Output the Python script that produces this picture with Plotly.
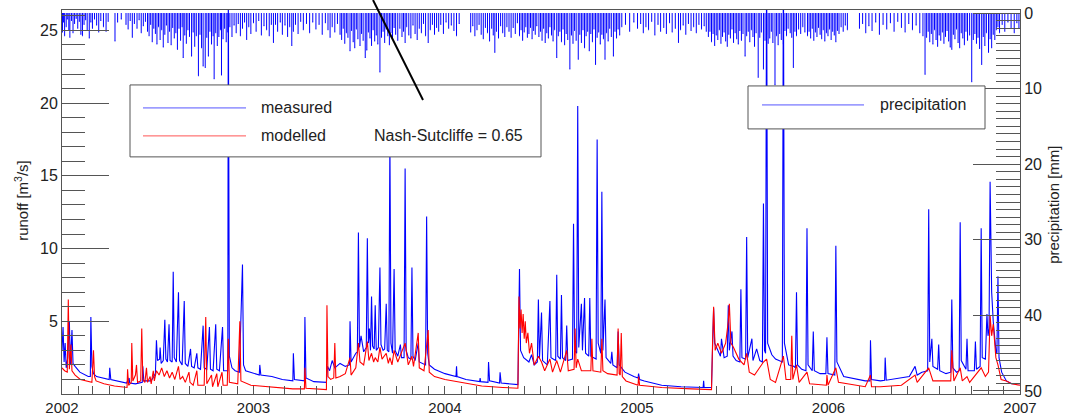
import pandas as pd
import plotly.graph_objects as go

START = pd.Timestamp("2002-01-01")

# ---- measured runoff [m3/s]: day offset since 2002-01-01, value
meas_day = [0,2,4,6,8,11,14,16,19,21,25,34,50,54,55,57,60,66,90,91,93,110,123,128,129,140,153,154,156,170,178,180,182,186,187,189,193,196,198,201,204,206,210,212,214,218,222,224,229,233,235,240,245,247,252,257,259,264,269,271,276,281,283,288,293,295,300,306,308,316,317,319,324,330,338,344,346,350,365,376,377,379,400,420,440,441,443,462,463,465,480,504,506,510,515,520,530,540,548,549,551,556,560,563,565,567,570,575,580,582,584,586,588,590,592,595,597,599,603,606,608,612,615,618,620,623,625,627,630,633,635,640,645,647,652,654,656,660,665,667,669,673,679,681,693,695,697,700,710,730,751,752,753,770,796,797,798,812,813,815,834,835,837,869,872,874,880,890,895,900,906,908,910,914,916,925,930,932,941,943,945,950,952,954,960,962,964,973,975,977,981,983,985,990,992,996,998,1004,1006,1008,1018,1020,1022,1027,1029,1031,1035,1037,1046,1048,1050,1058,1060,1062,1073,1090,1098,1099,1101,1110,1143,1180,1222,1223,1224,1238,1240,1242,1244,1250,1255,1257,1262,1268,1270,1272,1277,1279,1285,1292,1294,1296,1303,1305,1307,1315,1317,1324,1330,1335,1337,1339,1341,1343,1345,1353,1360,1373,1375,1377,1385,1395,1398,1400,1402,1410,1418,1420,1422,1430,1432,1434,1445,1456,1458,1460,1470,1473,1475,1477,1490,1531,1540,1541,1543,1560,1568,1569,1571,1600,1615,1626,1630,1639,1650,1652,1654,1658,1660,1669,1671,1673,1685,1694,1696,1698,1705,1710,1712,1714,1723,1725,1727,1739,1741,1743,1750,1752,1754,1760,1763,1765,1767,1769,1772,1775,1780,1782,1784,1786,1791,1800,1810,1826]
meas_val = [3.0,4.6,2.2,3.5,1.8,2.5,5.0,2.0,4.4,2.1,1.9,1.5,1.2,1.2,5.3,1.9,1.4,1.2,1.0,1.8,1.0,0.85,0.75,1.1,0.75,0.7,0.8,1.9,0.9,0.9,1.4,3.7,2.3,2.4,3.2,2.1,2.3,5.1,2.4,2.2,4.8,2.3,2.2,8.4,2.5,2.2,7.0,2.3,2.0,6.4,2.1,1.9,3.1,1.9,1.8,2.8,1.8,1.7,4.7,1.8,1.7,4.6,1.7,1.6,4.8,1.7,1.6,4.6,1.6,1.6,28.0,2.6,1.8,1.6,1.5,8.9,2.0,1.6,1.4,1.3,2.0,1.3,1.2,1.0,0.9,2.8,1.0,0.9,5.3,1.1,0.85,0.8,1.9,1.6,2.3,1.8,2.1,1.9,2.0,5.0,2.2,2.6,2.8,2.9,11.1,3.2,4.0,2.9,3.2,10.7,3.5,4.5,3.0,6.7,3.3,3.1,6.1,3.0,3.2,8.7,3.4,3.0,3.1,6.2,3.0,2.9,17.5,3.5,2.8,8.6,3.0,2.6,3.4,2.5,2.5,15.5,3.0,2.5,2.4,8.7,2.6,2.3,3.5,2.2,2.0,12.2,2.8,2.0,1.7,1.4,1.2,1.9,1.2,1.0,0.85,1.1,0.85,0.8,2.2,0.9,0.75,1.5,0.75,0.65,8.6,3.0,2.5,2.2,2.7,2.0,2.2,6.5,2.4,5.6,2.3,2.0,6.4,2.5,2.3,8.2,2.6,2.4,6.8,2.5,2.3,4.7,2.3,2.4,11.7,3.0,2.8,19.8,3.2,6.2,3.0,6.6,2.8,2.6,6.6,2.6,2.4,17.5,3.5,2.8,13.9,3.0,6.5,2.5,2.1,2.9,2.0,1.8,4.3,2.0,1.5,1.2,1.1,1.4,1.0,0.9,0.6,0.5,0.45,0.9,0.45,0.45,3.0,5.9,3.5,3.0,2.6,3.8,2.5,2.6,6.1,3.0,4.3,2.6,2.3,2.2,7.2,2.5,2.4,10.8,2.5,3.8,2.3,3.1,2.3,2.2,13.1,3.0,2.8,30.0,3.5,2.7,2.4,2.2,30.0,3.5,2.0,1.9,1.8,7.0,2.0,1.7,1.6,11.4,2.0,1.6,4.3,1.6,1.4,1.4,3.9,1.4,1.3,1.3,10.2,2.2,1.2,0.9,0.9,3.7,1.0,0.9,0.95,2.5,0.95,1.1,1.2,1.9,1.3,1.5,1.6,12.7,2.2,3.8,1.9,1.7,3.4,1.6,1.4,1.5,6.5,1.8,1.5,1.6,11.8,2.3,1.7,3.8,1.6,1.6,3.6,1.7,1.9,11.4,2.5,2.4,5.5,4.0,4.5,14.6,7.0,5.0,3.0,2.8,8.1,2.5,1.5,0.9,0.7,0.7]

# ---- modelled runoff [m3/s]
mod_day = [0,5,10,12,14,17,19,25,35,50,57,60,62,65,80,100,124,125,127,132,133,135,140,142,144,150,152,154,158,161,163,168,170,174,176,180,185,190,195,200,205,210,215,222,225,230,235,242,244,250,257,259,271,274,276,285,287,295,297,305,307,315,317,319,335,339,341,360,400,440,462,463,465,500,504,505,507,512,518,520,522,530,540,549,551,560,565,568,575,582,585,590,594,597,602,606,610,618,622,625,629,633,640,654,660,667,670,679,681,690,698,700,710,730,760,800,840,869,871,873,875,877,879,881,883,885,888,891,895,900,908,914,920,930,935,943,950,962,965,976,978,980,983,990,1008,1010,1012,1027,1029,1031,1040,1058,1060,1062,1064,1066,1068,1075,1098,1099,1101,1143,1200,1238,1240,1242,1245,1250,1257,1265,1270,1272,1275,1280,1290,1300,1305,1310,1320,1337,1343,1350,1360,1375,1380,1389,1391,1393,1400,1405,1420,1425,1457,1458,1460,1475,1480,1531,1541,1543,1560,1600,1626,1630,1652,1660,1694,1696,1700,1712,1716,1725,1730,1752,1760,1766,1769,1772,1775,1780,1784,1790,1800,1810,1826]
mod_val = [1.8,1.6,1.5,6.5,1.7,3.4,1.6,1.3,1.0,0.85,0.8,3.0,1.2,0.9,0.7,0.55,0.45,1.7,0.6,0.8,3.5,0.9,1.3,2.0,0.8,0.9,4.5,1.0,0.8,1.8,0.8,1.2,0.7,1.6,0.9,1.6,1.3,1.8,1.2,1.6,1.1,1.5,1.0,1.9,1.0,1.2,0.8,1.5,0.8,0.6,1.6,0.6,0.6,5.3,0.7,1.3,0.5,1.4,0.5,1.5,0.6,0.6,3.8,0.8,0.7,5.0,0.9,0.6,0.45,0.35,0.35,1.8,0.4,0.3,0.3,6.1,1.2,1.0,1.1,3.5,1.1,1.2,1.4,2.5,1.3,1.8,3.5,2.2,2.0,3.6,2.3,2.8,2.2,2.5,2.2,3.2,2.4,2.8,2.1,2.5,2.0,3.0,2.2,3.5,2.0,2.6,1.9,4.2,1.8,1.6,4.4,1.5,1.2,1.0,0.8,0.55,0.45,0.4,6.7,4.5,5.8,4.2,5.5,3.8,5.0,3.5,4.2,2.8,3.5,2.0,2.6,2.2,1.6,2.4,1.5,2.3,1.5,3.0,1.6,1.7,4.5,1.8,2.4,1.6,1.6,3.8,1.6,1.5,3.8,1.6,1.4,1.3,4.5,1.4,1.3,4.2,1.2,0.9,0.6,1.2,0.6,0.45,0.35,0.3,3.5,6.0,3.0,3.5,2.8,3.5,5.0,6.2,3.5,3.2,2.4,2.0,2.8,1.5,1.3,2.2,2.4,1.0,0.8,2.6,1.0,1.0,4.0,1.0,2.0,0.8,1.5,0.7,0.6,1.3,0.6,1.8,0.8,0.5,1.3,0.5,0.5,0.6,1.3,0.8,1.8,0.9,0.9,3.0,0.9,1.8,0.9,1.2,0.8,1.8,1.2,1.5,5.4,4.0,4.8,2.5,2.0,1.0,0.9,0.7,0.6]

# ---- precipitation [mm]
prec_day = [1,3,5,8,10,13,15,18,21,24,27,30,33,36,39,42,45,48,52,55,58,62,66,70,74,79,84,88,101,106,113,
 122,126,130,134,138,143,147,151,155,159,
 163,166,169,172,175,178,181,184,187,190,193,196,199,202,205,208,211,214,217,220,223,226,229,231,234,237,240,243,247,250,253,256,260,263,266,269,273,276,279,282,285,288,290,293,296,299,302,304,307,310,313,316,320,324,328,
 332,336,340,344,348,352,356,360,365,370,375,380,385,390,395,399,
 403,407,411,416,420,425,430,434,438,441,445,450,455,460,466,472,478,484,490,496,502,507,511,515,520,525,
 530,533,536,539,542,545,549,552,555,558,561,564,568,571,574,578,581,584,587,590,593,596,599,602,606,609,612,615,618,621,624,627,630,633,636,640,644,648,651,654,657,661,665,669,673,677,681,685,689,693,698,702,706,710,714,718,
 722,727,732,737,742,747,752,757,
 779,783,787,791,795,799,803,807,811,815,819,822,825,828,832,836,840,844,848,852,856,860,864,868,
 872,875,878,881,884,887,890,893,896,899,902,905,909,912,915,918,921,924,927,930,933,936,939,943,946,949,952,955,958,961,964,968,971,974,977,980,984,987,990,993,996,999,1002,1005,1008,1011,1014,1017,1020,1023,1026,1029,1032,1035,1038,1041,1044,1047,1051,1054,1057,1060,1063,1067,
 1074,1082,1090,1097,
 1103,1108,1113,1118,1124,1130,1136,1141,1147,1152,1158,1163,1169,1175,1179,1184,1189,1194,1199,1204,1209,1214,1219,1224,1228,
 1232,1235,1238,1241,1244,1247,1250,1253,1256,1259,1262,1265,1268,1271,1274,1277,1280,1283,1286,1289,1292,1295,1298,1302,1305,1308,1311,1314,1317,1320,1323,1327,1330,1333,1337,1340,1343,1346,1349,1352,1355,1359,1362,1365,1368,1371,1375,1378,1381,1384,1388,1391,1394,1397,1400,1404,1408,1412,1416,
 1421,1424,1427,1430,1433,1436,1439,1442,1445,1448,1451,1454,1457,1460,1463,1466,1469,1472,1475,1478,1481,1485,1489,1493,1497,
 1520,1526,1532,1538,1544,1551,1558,1565,1572,1579,1586,1593,1600,1607,1614,1621,1628,1635,
 1641,1645,1648,1651,1654,1657,1660,1663,1666,1669,1672,1675,1678,1681,1684,1687,1690,1693,1696,1699,1702,1705,1708,1711,1714,1717,1720,1723,1726,1730,1734,1737,1740,1743,1746,1749,1753,1756,1759,1762,1766,1769,1772,1775,1778,1781,1784,1787,
 1792,1797,1803,1809,1815,1820,1824]
prec_val = [2.5,1.2,3.0,1.8,0.8,2.2,3.2,1.0,2.6,1.4,0.7,2.0,1.1,2.8,3.0,1.5,0.9,2.3,3.3,1.2,2.0,0.8,1.6,2.5,1.0,1.8,2.4,1.1,3.7,1.2,0.8,
 1.5,2.1,1.0,3.2,1.4,2.0,0.9,2.6,1.7,1.1,
 2.4,3.0,1.5,3.8,2.0,2.7,4.1,1.8,3.5,2.2,4.5,2.8,1.6,3.9,2.4,4.2,1.9,3.3,2.6,4.8,2.0,3.6,1.8,5.9,2.9,4.0,2.2,3.1,5.7,2.5,4.4,3.0,8.3,2.8,4.6,7.0,7.2,3.2,5.7,2.4,4.1,3.0,8.7,2.6,4.3,3.1,2.2,8.2,3.4,2.0,3.8,2.5,1.8,3.1,1.6,
 2.6,1.4,3.0,2.0,1.2,3.5,1.8,2.7,1.3,2.4,1.0,2.9,1.7,2.2,3.0,1.5,
 3.9,1.5,2.4,1.2,2.8,1.6,3.1,1.8,4.3,2.4,1.5,2.7,1.1,2.2,1.4,2.6,1.2,2.1,1.5,2.8,1.3,2.2,3.2,1.8,2.5,1.4,
 2.8,3.5,2.0,4.0,2.6,3.2,5.0,2.3,3.8,4.6,2.1,3.4,4.3,2.7,3.6,5.9,4.9,2.5,3.3,4.3,2.2,3.7,2.9,4.1,7.8,3.2,2.4,3.9,2.1,3.0,4.2,2.6,3.4,1.9,2.8,3.6,2.0,3.1,2.4,3.9,1.8,2.9,3.3,1.6,2.7,3.5,2.0,2.6,1.4,3.0,3.9,2.2,1.5,2.8,1.9,2.4,
 1.5,2.7,1.2,2.0,1.6,2.3,3.0,1.4,
 2.5,1.7,3.0,2.2,1.5,2.8,3.4,1.9,2.6,3.7,2.0,2.9,5.2,2.4,3.3,1.7,2.6,3.1,1.8,2.4,3.2,1.9,2.7,1.3,
 3.0,2.2,3.6,2.5,1.8,3.2,2.7,1.9,3.4,2.3,2.8,1.7,3.1,2.4,3.6,2.0,3.9,2.6,3.3,1.8,2.9,3.7,2.2,5.9,3.0,2.4,3.8,2.1,4.2,2.7,3.5,7.4,2.9,4.0,2.3,3.6,6.1,2.8,3.9,2.2,4.6,3.0,2.4,5.0,2.7,3.8,2.1,6.8,3.2,2.5,4.1,2.8,3.4,6.1,2.6,3.7,2.0,3.1,5.7,2.4,3.3,2.1,2.9,1.8,
 1.5,2.4,1.2,2.0,
 1.4,2.6,1.8,2.2,1.1,2.9,1.5,2.4,1.9,2.7,1.3,2.5,2.0,3.9,2.2,1.6,2.8,1.4,2.3,1.8,2.6,1.5,2.1,1.7,2.4,
 3.1,2.4,3.8,2.7,4.3,2.9,3.5,2.2,4.0,3.1,2.5,3.7,4.4,2.8,3.3,2.1,3.9,2.6,3.4,4.1,2.3,3.6,2.7,5.7,3.0,2.4,3.8,2.2,3.1,4.4,2.6,8.5,3.2,2.5,7.4,3.6,2.8,4.0,3.3,2.4,3.9,9.5,3.0,4.2,2.7,3.5,4.1,2.3,3.0,2.0,2.6,3.2,7.2,2.4,3.0,2.1,2.7,1.8,2.5,
 3.0,2.4,3.3,2.0,3.6,2.5,3.1,1.9,2.8,3.4,2.2,3.7,2.6,3.0,2.1,3.5,2.4,2.9,3.8,2.3,2.7,1.8,2.4,1.6,2.2,
 2.0,1.4,2.6,1.7,2.3,1.2,2.8,1.5,2.1,1.3,2.4,1.1,1.9,2.5,1.4,2.2,1.6,2.6,
 3.0,8.1,3.2,2.4,3.8,2.7,4.1,2.2,3.5,4.4,2.9,3.6,2.5,4.0,3.1,2.3,3.7,4.5,4.8,2.8,3.4,2.1,3.9,4.6,2.6,3.3,4.2,2.4,3.6,2.9,9.1,3.5,2.7,4.0,3.2,4.7,6.8,3.1,4.3,2.6,5.2,3.4,4.6,2.8,3.5,2.2,1.8,2.6,
 1.5,2.4,1.2,1.9,2.6,1.3,2.0]

year_ticks = ["2002", "2003", "2004", "2005", "2006", "2007"]
runoff_ticks = [5, 10, 15, 20, 25]
prec_ticks = [0, 10, 20, 30, 40, 50]

to_dates = lambda days: START + pd.to_timedelta(days, unit="D")

FONT = "Liberation Sans, Arial, Helvetica, sans-serif"
TXT = "#222222"
AX = "#555555"
BLUE = "#0000ff"
RED = "#ff0000"

fig = go.Figure()
fig.add_trace(go.Scatter(x=to_dates(meas_day), y=meas_val, mode="lines",
                         line=dict(color=BLUE, width=1.1), name="measured", yaxis="y"))
fig.add_trace(go.Scatter(x=to_dates(mod_day), y=mod_val, mode="lines",
                         line=dict(color=RED, width=1.1), name="modelled", yaxis="y"))
# precipitation as daily stems hanging from the top (reversed axis)
fig.add_trace(go.Scatter(x=to_dates(prec_day), y=prec_val, yaxis="y2", name="precipitation",
                         mode="markers", marker=dict(size=1, color=BLUE),
                         error_y=dict(type="data", symmetric=False, array=[0] * len(prec_val),
                                      arrayminus=prec_val, color=BLUE, thickness=1, width=0)))

fig.update_layout(
    width=1069, height=418,
    margin=dict(l=62, r=49, t=10, b=24, autoexpand=False),
    paper_bgcolor="white", plot_bgcolor="white",
    showlegend=False,
    font=dict(family=FONT, size=16, color=TXT),
    xaxis=dict(type="date", range=["2002-01-01", "2007-01-01"], automargin=False,
               tickvals=[y + "-01-01" for y in year_ticks], ticktext=year_ticks,
               ticks="inside", ticklen=8, tickcolor=AX, tickwidth=1,
               minor=dict(dtick="M1", ticks="inside", ticklen=8, tickcolor=AX, tickwidth=1, showgrid=False),
               showgrid=False, showline=True, linecolor=AX, linewidth=1, mirror=True,
               tickfont=dict(size=15, color=TXT), zeroline=False),
    yaxis=dict(range=[0, 26.4], tickvals=runoff_ticks, ticks="inside", ticklen=47,
               tickcolor=AX, tickwidth=1, automargin=False,
               minor=dict(dtick=1, ticks="inside", ticklen=23, tickcolor=AX, tickwidth=1, showgrid=False),
               showgrid=False, zeroline=False, showline=True, linecolor=AX, linewidth=1,
               tickfont=dict(size=16, color=TXT)),
    yaxis2=dict(overlaying="y", side="right", range=[50.4, -0.4], tickvals=prec_ticks,
                ticks="inside", ticklen=47, tickcolor=AX, tickwidth=1, automargin=False,
                minor=dict(dtick=1, ticks="inside", ticklen=24, tickcolor=AX, tickwidth=1, showgrid=False),
                showgrid=False, zeroline=False, showline=True, linecolor=AX, linewidth=1,
                tickfont=dict(size=16, color=TXT)),
)

# helpers converting pixel layout to paper coordinates
PL, PR, PT, PB = 62, 1020, 10, 394.3
px = lambda x: (x - PL) / (PR - PL)
py = lambda y: (PB - y) / (PB - PT)

shapes = [
    dict(type="rect", xref="paper", yref="paper", x0=px(130), x1=px(541), y0=py(157), y1=py(85),
         fillcolor="white", line=dict(color=AX, width=1), layer="above"),
    dict(type="line", xref="paper", yref="paper", x0=px(143), x1=px(246), y0=py(108), y1=py(108),
         line=dict(color="#5555ff", width=1), layer="above"),
    dict(type="line", xref="paper", yref="paper", x0=px(143), x1=px(246), y0=py(136), y1=py(136),
         line=dict(color="#ff5555", width=1), layer="above"),
    dict(type="rect", xref="paper", yref="paper", x0=px(748), x1=px(985), y0=py(129), y1=py(86),
         fillcolor="white", line=dict(color=AX, width=1), layer="above"),
    dict(type="line", xref="paper", yref="paper", x0=px(762), x1=px(864), y0=py(105), y1=py(105),
         line=dict(color="#5555ff", width=1), layer="above"),
    dict(type="line", xref="paper", yref="paper", x0=px(373), x1=px(423), y0=py(0), y1=py(100),
         line=dict(color="black", width=2), layer="above"),
]
fig.update_layout(shapes=shapes)

ann = [
    dict(text="measured", x=px(259), y=py(108), xanchor="left", yanchor="middle"),
    dict(text="modelled", x=px(259), y=py(136), xanchor="left", yanchor="middle"),
    dict(text="Nash-Sutcliffe = 0.65", x=px(372), y=py(136), xanchor="left", yanchor="middle"),
    dict(text="precipitation", x=px(878), y=py(105), xanchor="left", yanchor="middle"),
    dict(text="runoff [m<sup>3</sup>/s]", x=px(22), y=py(201), xanchor="center", yanchor="middle",
         textangle=-90, font=dict(size=15, color=TXT, family=FONT)),
    dict(text="precipitation [mm]", x=px(1054), y=py(205), xanchor="center", yanchor="middle",
         textangle=-90, font=dict(size=15, color=TXT, family=FONT)),
]
for a in ann:
    a.update(xref="paper", yref="paper", showarrow=False)
    a.setdefault("font", dict(size=16, color=TXT, family=FONT))
fig.update_layout(annotations=ann)

# remove the default page margin so the figure sits at the window's top-left corner
fig.write_html("out.html", config={"displayModeBar": False},
               post_script="document.body.style.margin='0px';document.body.style.overflow='hidden';")
